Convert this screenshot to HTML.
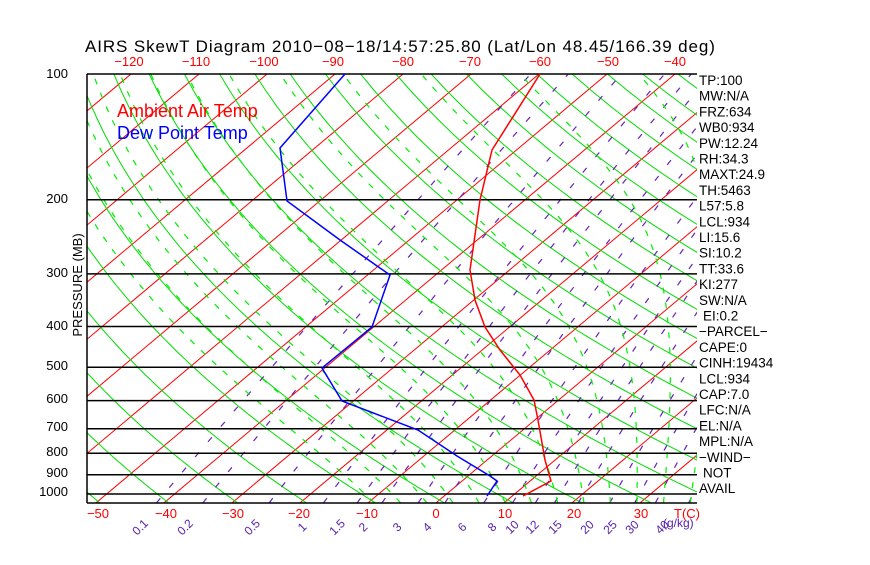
<!DOCTYPE html>
<html><head><meta charset="utf-8"><style>
body{margin:0;background:#fff;width:870px;height:560px;overflow:hidden}
svg text{font-family:"Liberation Sans",sans-serif}
</style></head><body>
<svg id="s" width="870" height="560" xmlns="http://www.w3.org/2000/svg">
<defs><clipPath id="c"><rect x="87" y="74" width="610" height="429"/></clipPath></defs>
<g id="g" clip-path="url(#c)"></g>
<g id="h"></g>
<text x="85" y="52" font-size="17" letter-spacing="0.9">AIRS SkewT Diagram 2010−08−18/14:57:25.80 (Lat/Lon 48.45/166.39 deg)</text>
<g font-size="13" fill="#ff0000" text-anchor="middle">
<text x="129" y="66">−120</text><text x="196" y="66">−110</text><text x="264" y="66">−100</text><text x="333" y="66">−90</text><text x="403" y="66">−80</text><text x="470" y="66">−70</text><text x="540" y="66">−60</text><text x="608" y="66">−50</text><text x="675" y="66">−40</text>
<text x="98" y="518">−50</text><text x="166" y="518">−40</text><text x="233" y="518">−30</text><text x="299" y="518">−20</text><text x="367" y="518">−10</text><text x="436" y="518">0</text><text x="505" y="518">10</text><text x="574" y="518">20</text><text x="641" y="518">30</text><text x="687" y="518">T(C)</text>
<text x="117" y="117" font-size="18" text-anchor="start">Ambient Air Temp</text>
</g>
<text x="117" y="139" font-size="18" fill="#0000ff">Dew Point Temp</text>
<g font-size="13" text-anchor="end">
<text x="68" y="78">100</text><text x="68" y="203">200</text><text x="68" y="277">300</text><text x="68" y="330">400</text><text x="68" y="370">500</text><text x="68" y="403">600</text><text x="68" y="431">700</text><text x="68" y="456">800</text><text x="68" y="477">900</text><text x="68" y="496">1000</text>
</g>
<text transform="translate(82,285) rotate(-90)" font-size="13" text-anchor="middle">PRESSURE (MB)</text>
<g font-size="13.5" id="r"></g>
<g font-size="12" fill="#5522aa" id="m"></g>
</svg>
<script>
var NS="http://www.w3.org/2000/svg",g=document.getElementById("g"),h=document.getElementById("h");
function Y(p){return 494+182.8*Math.log(p/1000);}
function X(T,p){return 436+6.8*T+217.8*Math.log(1050/p);}
function line(pts,col,w,dash,par){var e=document.createElementNS(NS,"polyline");e.setAttribute("points",pts.map(function(a){return a[0].toFixed(1)+","+a[1].toFixed(1)}).join(" "));e.setAttribute("fill","none");e.setAttribute("stroke",col);e.setAttribute("stroke-width",w);if(dash)e.setAttribute("stroke-dasharray",dash);(par||g).appendChild(e);}
var ps=[];for(var p=1050;p>=99;p-=10)ps.push(p);
for(var T=-200;T<=50;T+=10){line([[X(T,1050),Y(1050)],[X(T,100),Y(100)]],"#ff0000",1);}
for(var th=220.6-200;th<=520;th+=10){line(ps.map(function(p){return[X(th*Math.pow(p/1000,0.286)-273.15,p),Y(p)]}),"#00dd00",1);}
var ws=[0.1,0.2,0.5,1,1.5,2,3,4,6,8,10,12,15,20,25,30,40];
ws.forEach(function(w){var pts=ps.map(function(p){var e=(w/1000)*p/(0.622+w/1000),l=Math.log(e/6.112);return[X(243.5*l/(17.67-l),p),Y(p)]});line(pts,"#6622bb",1.2,"6,14");});
function es(t){return 6.112*Math.exp(17.67*t/(t+243.5));}
var f=function(T,p){var rs=0.622*es(T-273.15)/(p-es(T-273.15));return(287*T+2.5e6*rs)/(p*(1004+2.5e6*2.5e6*rs*0.622/(287*T*T)));};
for(var t0=-12;t0<=40;t0+=4){var T=t0+273.15,up=[],dn=[],pp,Tt;
 Tt=T;for(pp=1000;pp<=1050;pp+=5){dn.push([X(Tt-273.15,pp),Y(pp)]);Tt+=f(Tt,pp)*5;}
 Tt=T;for(pp=1000;pp>=100;pp-=5){up.push([X(Tt-273.15,pp),Y(pp)]);Tt-=f(Tt,pp)*5;}
 line(dn.reverse().concat(up),"#00ee00",1.2,"6,9");}
[200,300,400,500,600,700,800,900,1000].forEach(function(p){line([[87,Y(p)],[697,Y(p)]],"#000",1.5,null,h);});
line([[87,74],[697,74]],"#000",1.5,null,h);line([[87,503],[697,503]],"#000",1.5,null,h);line([[87,74],[87,503]],"#000",1.5,null,h);
line([[540,74],[492,150],[480,200],[470,270],[475,300],[485,327],[500,350],[520,375],[534,400],[538,420],[545,460],[551,481],[523,496]],"#ff0000",1.5,null,h);
line([[345,74],[280,148],[287,201],[340,240],[390,275],[372,327],[322,368],[342,401],[418,430],[457,456],[490,476],[497,481],[487,496]],"#0000ff",1.5,null,h);
var L=["TP:100","MW:N/A","FRZ:634","WB0:934","PW:12.24","RH:34.3","MAXT:24.9","TH:5463","L57:5.8","LCL:934","LI:15.6","SI:10.2","TT:33.6","KI:277","SW:N/A"," EI:0.2","−PARCEL−","CAPE:0","CINH:19434","LCL:934","CAP:7.0","LFC:N/A","EL:N/A","MPL:N/A","−WIND−"," NOT","AVAIL"];
var r=document.getElementById("r");L.forEach(function(s,i){var t=document.createElementNS(NS,"text");t.setAttribute("x",s[0]==" "?703:699);t.setAttribute("y",85+i*15.7);t.textContent=s.trim();r.appendChild(t);});
var mx=[143,188,255,305,340,366,400,430,465,495,515,535,558,590,613,635,665],m=document.getElementById("m");
ws.forEach(function(w,i){var t=document.createElementNS(NS,"text");t.setAttribute("transform","translate("+mx[i]+",530) rotate(-45)");t.setAttribute("text-anchor","middle");t.textContent=w;m.appendChild(t);});
var t=document.createElementNS(NS,"text");t.setAttribute("x",663);t.setAttribute("y",527);t.textContent="(g/kg)";m.appendChild(t);
</script>
</body></html>
